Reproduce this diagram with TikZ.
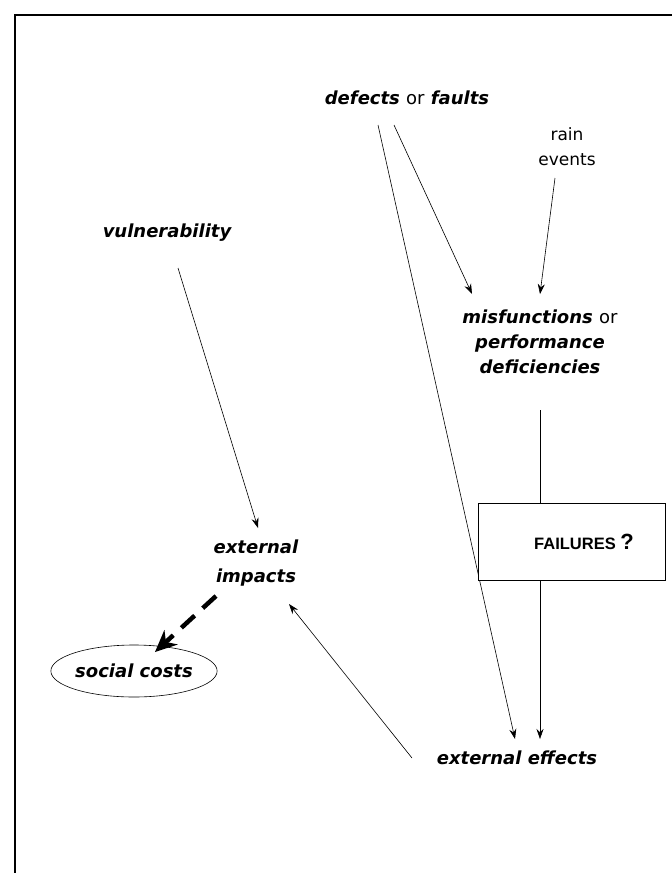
\documentclass[tikz,border=0pt]{standalone}
\usepackage{fontspec}
\setmainfont{DejaVu Sans}
\newfontfamily\arialfont{Liberation Sans}
\usetikzlibrary{arrows.meta,shapes.geometric}
\begin{document}
\begin{tikzpicture}[x=1pt,y=-1pt,
  lbl/.style={font=\fontsize{18}{25}\selectfont\bfseries\itshape, align=center, inner sep=1pt},
  plain/.style={font=\fontsize{17}{25}\selectfont, align=center, inner sep=1pt},
  conn/.style={line width=0.6pt, -{Stealth[length=10pt,width=7pt]}},
  bigdash/.style={line width=4.5pt, dash pattern=on 18pt off 11pt, -{Stealth[length=22pt,width=20pt,line width=0pt]}},
  failbox/.style={draw, line width=0.9pt, fill=white, minimum width=187pt, minimum height=77pt, inner sep=0pt},
  failtext/.style={font=\arialfont\fontsize{16.5}{20}\selectfont\bfseries, inner sep=0pt},
  oval/.style={draw, ellipse, line width=0.6pt, minimum width=162pt, minimum height=52pt, inner sep=0pt}
]
\useasboundingbox (0,0) rectangle (672,873);
% frame
\draw[line width=2.5pt] (15,873) -- (15,15) -- (672,15);

% nodes
\node[lbl] (defects) at (407,98) {defects {\normalfont or} faults};
\node[plain] (rain) at (567,147) {rain\\events};
\node[lbl] (vuln) at (167,233) {vulnerability};
\node[lbl] (misf) at (540,342) {misfunctions {\normalfont or}\\performance\\deficiencies};
\node[lbl, font=\fontsize{18}{29}\selectfont\bfseries\itshape] (impacts) at (256,563) {external\\impacts};
\node[lbl, oval] (social) at (134,671) {social costs};
\node[lbl] (effects) at (517,758) {external effects};

% connector end points
\coordinate (d1) at (378,125);
\coordinate (d2) at (394,125);
\coordinate (r1) at (555,178);
\coordinate (m1) at (540,410);
\coordinate (v1) at (178,268);
\coordinate (e1) at (412,758);
\coordinate (i1) at (216,596);
\coordinate (misIn1) at (472,294);
\coordinate (misIn2) at (540,294);
\coordinate (effIn1) at (515,739);
\coordinate (effIn2) at (540,739);
\coordinate (impIn1) at (258,528);
\coordinate (impIn2) at (289,604);
\coordinate (socIn) at (155,652);

% connectors
\draw[conn] (d1) -- (effIn1);
\draw[conn] (d2) -- (misIn1);
\draw[conn] (r1) -- (misIn2);
\draw[conn] (m1) -- (effIn2);
\draw[conn] (v1) -- (impIn1);
\draw[conn] (e1) -- (impIn2);
\draw[bigdash] (i1) -- (socIn);

\node[failbox] (fail) at (571.5,541.5) {};
\node[failtext] (failtxt) at (584,542) {FAILURES {\fontsize{22}{22}\selectfont ?}};
\end{tikzpicture}
\end{document}
